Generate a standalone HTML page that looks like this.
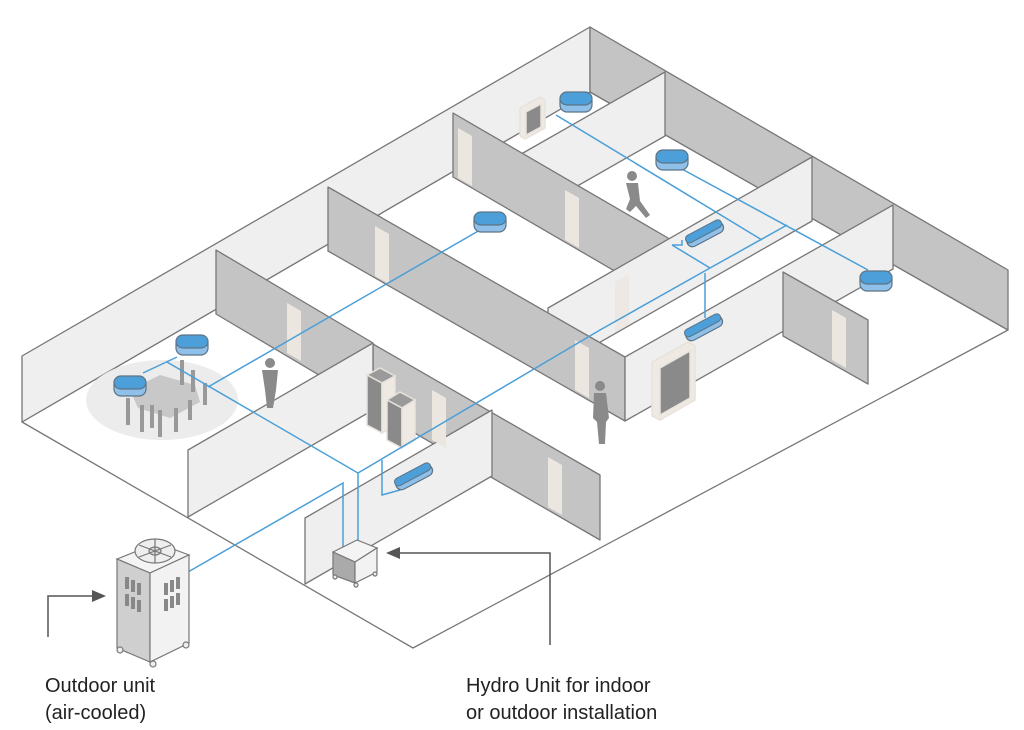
<!DOCTYPE html>
<html><head><meta charset="utf-8"><style>
html,body{margin:0;padding:0;background:#fff;width:1024px;height:730px;overflow:hidden}
svg{display:block}
text{font-family:"Liberation Sans",sans-serif;fill:#222}
</style></head><body>
<svg width="1024" height="730" viewBox="0 0 1024 730" xmlns="http://www.w3.org/2000/svg">
<defs>
<g id="cu"><rect x="-16" y="-9" width="32" height="19" rx="7" fill="#8fc0ea" stroke="#5c7384" stroke-width="1.2"/><rect x="-16" y="-10" width="32" height="13" rx="7" fill="#4d9fd9" stroke="#5c7384" stroke-width="1.2"/></g>
<g id="wu"><rect x="-20" y="-5" width="40" height="11" rx="5.5" fill="#8fc0ea" stroke="#5c7384" stroke-width="1.2"/><rect x="-20" y="-7" width="40" height="8" rx="4" fill="#4d9fd9" stroke="#5c7384" stroke-width="1"/></g>
</defs>
<g stroke="#777" stroke-width="1.3" stroke-linejoin="round">
<polygon points="22,422 590,92 1008,330 413,648" fill="#fff"/>
<polygon points="22,356 590,27 590,92 22,422" fill="#efefef"/>
<polygon points="590,27 1008,270 1008,330 590,92" fill="#c4c4c4"/>
<polygon points="665,72 523,153 523,217 665,136" fill="#efefef"/>
<polygon points="453,113 668,238 668,302 453,177" fill="#c4c4c4"/>
<polygon points="812,157 548,308 548,372 812,221" fill="#efefef"/>
<polygon points="328,187 625,357 625,421 328,251" fill="#c4c4c4"/>
<polygon points="893,205 625,357 625,421 893,269" fill="#efefef"/>
<polygon points="783,272 868,320 868,384 783,336" fill="#c4c4c4"/>
<polygon points="216,250 373,343 373,407 216,314" fill="#c4c4c4"/>
<polygon points="373,344 600,475 600,540 373,409" fill="#c4c4c4"/>
<polygon points="188,450 373,343 373,410 188,517" fill="#efefef"/>
<polygon points="305,518 492,410 492,476 305,584" fill="#efefef"/>
</g>
<g fill="#ece6e0">
<polygon points="458,128 472,136 472,186 458,178"/>
<polygon points="565,190 579,198 579,248 565,240"/>
<polygon points="375,226 389,234 389,284 375,276"/>
<polygon points="575,340 589,348 589,398 575,390"/>
<polygon points="287,303 301,311 301,361 287,353"/>
<polygon points="432,390 446,398 446,448 432,440"/>
<polygon points="548,457 562,465 562,515 548,507"/>
<polygon points="832,310 846,318 846,368 832,360"/>
<polygon points="615,282 629,274 629,324 615,332" opacity="0.7"/>
</g>
<!-- dining area -->
<ellipse cx="162" cy="400" rx="76" ry="40" fill="#ececec"/>
<polygon points="130,390 160,375 195,385 200,402 170,418 138,408" fill="#c8c8c8"/>
<g stroke="#999" stroke-width="4">
<line x1="128" y1="398" x2="128" y2="425"/><line x1="142" y1="405" x2="142" y2="432"/><line x1="160" y1="410" x2="160" y2="437"/>
<line x1="176" y1="408" x2="176" y2="432"/><line x1="190" y1="400" x2="190" y2="420"/><line x1="182" y1="360" x2="182" y2="385"/>
<line x1="193" y1="370" x2="193" y2="392"/><line x1="205" y1="383" x2="205" y2="405"/><line x1="152" y1="405" x2="152" y2="428"/>
</g>
<!-- cabinets -->
<g stroke="#e8e2dc" stroke-width="1.5">
<polygon points="367,375 380,368 395,376 382,383" fill="#9a9a9a"/>
<polygon points="367,375 382,383 382,433 367,425" fill="#8a8a8a"/>
<polygon points="382,383 395,376 395,426 382,433" fill="#efe9e3"/>
<polygon points="387,400 400,392 415,400 402,408" fill="#9a9a9a"/>
<polygon points="387,400 402,408 402,448 387,440" fill="#8a8a8a"/>
<polygon points="402,408 415,400 415,440 402,448" fill="#efe9e3"/>
<polygon points="652,362 688,342 695,346 695,400 660,420 652,416" fill="#efe9e3"/>
<polygon points="660,368 690,351 690,398 660,415" fill="#8a8a8a"/>
<polygon points="520,108 540,97 545,100 545,128 525,139 520,136" fill="#efe9e3"/>
<polygon points="526,112 541,104 541,127 526,135" fill="#8a8a8a"/>
</g>
<!-- people -->
<g fill="#8a8a8a">
<circle cx="270" cy="363" r="5"/><path d="M262,370 h16 l-2,20 l-3,18 h-6 l-2,-18 z"/>
<circle cx="632" cy="176" r="5"/><path d="M626,183 h12 l2,18 l10,14 -4,3 -10,-12 -6,6 -4,-3 4,-10 z"/>
<circle cx="600" cy="386" r="5"/><path d="M594,393 h12 l3,25 -3,4 -1,22 h-6 l-2,-22 -4,-4 z"/>
</g>
<!-- pipes -->
<g fill="none" stroke="#4a9fd8" stroke-width="1.5">
<polyline points="188,572 343,483 343,547"/>
<polyline points="167,362 358,473 358,543"/>
<polyline points="358,473 600,330 710,268 787,225"/>
<polyline points="382,460 382,495 400,490"/>
<line x1="208" y1="387" x2="480" y2="230"/>
<line x1="143" y1="373" x2="177" y2="357"/>
<polyline points="556,115 762,240"/>
<polyline points="672,245 710,268"/>
<polyline points="672,245 682,245 682,240"/>
<line x1="705" y1="273" x2="705" y2="318"/>
<line x1="680" y1="168" x2="868" y2="270"/>
</g>
<!-- units -->
<use href="#cu" x="576" y="102"/>
<use href="#cu" x="672" y="160"/>
<use href="#cu" x="490" y="222"/>
<use href="#cu" x="192" y="345"/>
<use href="#cu" x="130" y="386"/>
<use href="#cu" x="876" y="281"/>
<use href="#wu" transform="translate(705,234) rotate(-28)"/>
<use href="#wu" transform="translate(704,328) rotate(-28)"/>
<use href="#wu" transform="translate(414,477) rotate(-28)"/>
<!-- outdoor unit -->
<g stroke="#777" stroke-width="1.2">
<polygon points="117,559 157,543 189,555 150,573" fill="#f4f4f4"/>
<polygon points="117,559 150,573 150,662 117,648" fill="#cfcfcf"/>
<polygon points="150,573 189,555 189,643 150,662" fill="#f2f2f2"/>
<ellipse cx="155" cy="551" rx="20" ry="12" fill="#eee"/>
<ellipse cx="155" cy="551" rx="6" ry="4" fill="#ddd"/>
<line x1="139" y1="545" x2="171" y2="557"/><line x1="139" y1="557" x2="171" y2="545"/>
<line x1="155" y1="539" x2="155" y2="563"/>
<circle cx="120" cy="650" r="3" fill="#eee"/><circle cx="153" cy="664" r="3" fill="#eee"/><circle cx="186" cy="645" r="3" fill="#eee"/>
</g>
<g fill="#888"><rect x="125" y="577" width="4" height="12"/><rect x="131" y="580" width="4" height="12"/><rect x="137" y="583" width="4" height="12"/>
<rect x="125" y="594" width="4" height="12"/><rect x="131" y="597" width="4" height="12"/><rect x="137" y="600" width="4" height="12"/>
<rect x="164" y="583" width="4" height="12"/><rect x="170" y="580" width="4" height="12"/><rect x="176" y="577" width="4" height="12"/>
<rect x="164" y="599" width="4" height="12"/><rect x="170" y="596" width="4" height="12"/><rect x="176" y="593" width="4" height="12"/></g>
<!-- hydro unit -->
<g stroke="#777" stroke-width="1.2">
<polygon points="333,552 357,540 377,548 355,562" fill="#f4f4f4"/>
<polygon points="333,552 355,562 355,583 333,575" fill="#aaa"/>
<polygon points="355,562 377,548 377,572 355,583" fill="#f2f2f2"/>
<circle cx="335" cy="577" r="2" fill="#eee"/><circle cx="356" cy="585" r="2" fill="#eee"/><circle cx="375" cy="574" r="2" fill="#eee"/>
</g>
<!-- arrows -->
<g fill="none" stroke="#555" stroke-width="1.5">
<polyline points="48,637 48,596 94,596"/>
<polyline points="550,645 550,553 398,553"/>
</g>
<polygon points="106,596 92,590 92,602" fill="#555"/>
<polygon points="386,553 400,547 400,559" fill="#555"/>
<text x="45" y="692" font-size="20">Outdoor unit</text>
<text x="45" y="719" font-size="20">(air-cooled)</text>
<text x="466" y="692" font-size="20">Hydro Unit for indoor</text>
<text x="466" y="719" font-size="20">or outdoor installation</text>
</svg>
</body></html>
